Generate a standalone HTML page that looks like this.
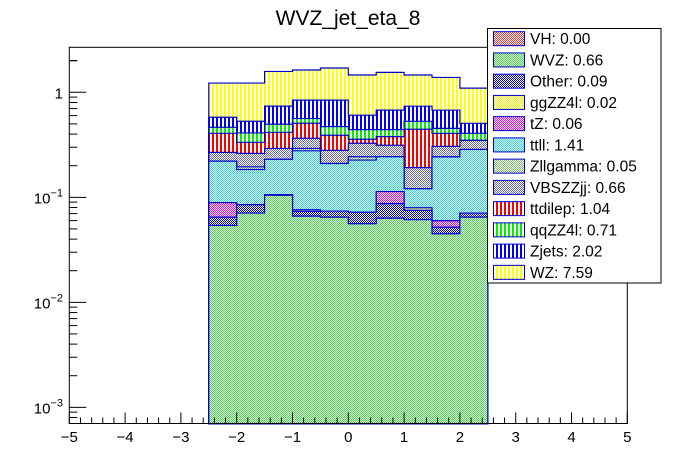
<!DOCTYPE html>
<html><head><meta charset="utf-8"><style>
body{margin:0;background:#fff;}
svg{display:block;font-family:"Liberation Sans",sans-serif;}
</style></head><body>
<svg id="chart" width="696" height="472" viewBox="0 0 696 472" xmlns="http://www.w3.org/2000/svg">
<defs>
<pattern id="chk-wvz" width="2" height="2" patternUnits="userSpaceOnUse"><rect width="2" height="2" fill="#fff"/><rect width="1" height="1" fill="#33dd33"/><rect x="1" y="1" width="1" height="1" fill="#33dd33"/></pattern>
<pattern id="chk-other" width="2" height="2" patternUnits="userSpaceOnUse"><rect width="2" height="2" fill="#fff"/><rect width="1" height="1" fill="#0000dd"/><rect x="1" y="1" width="1" height="1" fill="#0000dd"/></pattern>
<pattern id="chk-tz" width="2" height="2" patternUnits="userSpaceOnUse"><rect width="2" height="2" fill="#fff"/><rect width="1" height="1" fill="#ee00ee"/><rect x="1" y="1" width="1" height="1" fill="#ee00ee"/></pattern>
<pattern id="chk-gg" width="2" height="2" patternUnits="userSpaceOnUse"><rect width="2" height="2" fill="#fff"/><rect width="1" height="1" fill="#eeee00"/><rect x="1" y="1" width="1" height="1" fill="#eeee00"/></pattern>
<pattern id="chk-ttll" width="2" height="2" patternUnits="userSpaceOnUse"><rect width="2" height="2" fill="#fff"/><rect width="1" height="1" fill="#22dddd"/><rect x="1" y="1" width="1" height="1" fill="#22dddd"/></pattern>
<pattern id="chk-zll" width="2" height="2" patternUnits="userSpaceOnUse"><rect width="2" height="2" fill="#fff"/><rect width="1" height="1" fill="#77bb66"/><rect x="1" y="1" width="1" height="1" fill="#77bb66"/></pattern>
<pattern id="chk-vbs" width="2" height="2" patternUnits="userSpaceOnUse"><rect width="2" height="2" fill="#fff"/><rect width="1" height="1" fill="#6666aa"/><rect x="1" y="1" width="1" height="1" fill="#6666aa"/></pattern>
<pattern id="vl-ttd" width="4" height="4" patternUnits="userSpaceOnUse"><rect width="4" height="4" fill="#fff"/><rect width="2" height="4" fill="#ff0000"/></pattern>
<pattern id="vl-qq" width="4" height="4" patternUnits="userSpaceOnUse"><rect width="4" height="4" fill="#fff"/><rect width="2" height="4" fill="#00ee00"/></pattern>
<pattern id="vl-zj" width="4" height="4" patternUnits="userSpaceOnUse"><rect width="4" height="4" fill="#fff"/><rect width="2" height="4" fill="#0000ff"/></pattern>
<pattern id="vl-wz" width="4" height="4" patternUnits="userSpaceOnUse"><rect width="4" height="4" fill="#fff"/><rect width="2" height="4" fill="#ffff00"/></pattern>
<pattern id="chk-vh" width="2" height="2" patternUnits="userSpaceOnUse"><rect width="2" height="2" fill="#fff"/><rect width="1" height="1" fill="#ee3333"/><rect x="1" y="1" width="1" height="1" fill="#ee3333"/></pattern>
</defs>
<text x="348" y="25" font-size="21" text-anchor="middle">WVZ_jet_eta_8</text>
<g id="bars"></g>
<g id="axes"></g>
<g id="legend"></g>
</svg>
<script>
// Bin edges start at -2.5, width 0.5
const binLow = [-2.5,-2,-1.5,-1,-0.5,0,0.5,1,1.5,2];
const binWidth = 0.5;
// Stack order bottom -> top
const seriesNames = ["WVZ","Other","tZ","ggZZ4l","ttll","Zllgamma","VBSZZjj","ttdilep","qqZZ4l","Zjets","WZ"];
const vWVZ   = [0.054,0.0708,0.1045,0.0662,0.0648,0.056,0.0634,0.0612,0.045,0.0648];
const vOther = [0.0108,0.0143,0.0015,0.0073,0.0092,0.0163,0.0237,0.0139,0.007,0.006];
const vTZ    = [0.0242,0,0,0,0,0,0.0263,0,0.0078,0];
const vGG    = [0,0,0,0.0027,0,0,0,0.0045,0,0];
const vTTLL  = [0.132,0.099,0.124,0.201,0.136,0.154,0.130,0.041,0.183,0.215];
const vZLL   = [0,0.011,0,0.015,0,0.017,0,0,0,0];
const vVBS   = [0.047,0.067,0.062,0.073,0.070,0.084,0.070,0.071,0.063,0.063];
const vTTD   = [0.139,0.072,0.124,0.142,0.110,0.030,0.065,0.253,0.101,0];
const vQQ    = [0.057,0.076,0.080,0.055,0.081,0.084,0.063,0.085,0.047,0.058];
const vZJ    = [0.115,0.120,0.242,0.280,0.371,0.164,0.235,0.208,0.222,0.100];
const vWZ    = [0.646,0.695,0.843,0.789,0.862,0.856,0.871,0.723,0.710,0.590];
const xTicks = [-5,-4,-3,-2,-1,0,1,2,3,4,5];
const yDecades = [0,-1,-2,-3];
const legendLabels = ["VH: 0.00","WVZ: 0.66","Other: 0.09","ggZZ4l: 0.02","tZ: 0.06","ttll: 1.41","Zllgamma: 0.05","VBSZZjj: 0.66","ttdilep: 1.04","qqZZ4l: 0.71","Zjets: 2.02","WZ: 7.59"];

const NS="http://www.w3.org/2000/svg";
const X0=69.3,X1=627.3,Y0=423.5,Y1=47.3;
const logMin=-3.154, logMax=0.4286;
function xs(v){return X0+(v+5)/10*(X1-X0);}
function ys(v){const l=Math.log10(Math.max(v,1e-6));const c=Math.max(logMin,Math.min(logMax,l));return Y0-(c-logMin)/(logMax-logMin)*(Y0-Y1);}
function mk(t,parent){const e=document.createElementNS(NS,t);parent.appendChild(e);return e;}

const series=[vWVZ,vOther,vTZ,vGG,vTTLL,vZLL,vVBS,vTTD,vQQ,vZJ,vWZ];
const fills=["chk-wvz","chk-other","chk-tz","chk-gg","chk-ttll","chk-zll","chk-vbs","vl-ttd","vl-qq","vl-zj","vl-wz"];
const gb=document.getElementById('bars');
const cum=binLow.map(()=>0);
const tops=[];
series.forEach((s,k)=>{
  const t=s.map((v,i)=>cum[i]+v);
  tops.push(t);
  t.forEach((v,i)=>cum[i]=v);
});
// draw top-down so each layer is filled from frame bottom
for(let k=series.length-1;k>=0;k--){
  const g=mk('g',gb);
  
  
  let d='M'+xs(binLow[0])+','+Y0;
  tops[k].forEach((v,i)=>{d+=' L'+xs(binLow[i])+','+ys(v)+' L'+xs(binLow[i]+binWidth)+','+ys(v);});
  d+=' L'+xs(binLow[binLow.length-1]+binWidth)+','+Y0+' Z';
  const p=mk('path',g);
  p.setAttribute('d',d);
  p.setAttribute('fill','url(#'+fills[k]+')');
  p.setAttribute('stroke','#0000cc');
  p.setAttribute('stroke-width','1.2');
  
  
}
// axes
const ga=document.getElementById('axes');
const fr=mk('rect',ga);
fr.setAttribute('x',X0);fr.setAttribute('y',Y1);fr.setAttribute('width',X1-X0);fr.setAttribute('height',Y0-Y1);
fr.setAttribute('fill','none');fr.setAttribute('stroke','#000');fr.setAttribute('stroke-width','1');


for(let v=-5;v<=5.001;v+=0.2){
  const major=Math.abs(v-Math.round(v))<1e-6;
  const l=mk('line',ga);
  l.setAttribute('x1',xs(v));l.setAttribute('x2',xs(v));l.setAttribute('y1',Y0);l.setAttribute('y2',Y0-(major?11:6));
  l.setAttribute('stroke','#000');
  
  
}
xTicks.forEach(v=>{
  const t=mk('text',ga);
  t.setAttribute('x',xs(v));t.setAttribute('y',442);t.setAttribute('font-size','15');t.setAttribute('text-anchor','middle');
  t.textContent=(v<0?'\u2212':'')+Math.abs(v);
  
  
});
for(let dcd=-4;dcd<=0;dcd++){
  for(let m=1;m<=9;m++){
    const v=m*Math.pow(10,dcd);const lv=Math.log10(v);
    if(lv<logMin||lv>logMax)continue;
    const l=mk('line',ga);
    l.setAttribute('x1',X0);l.setAttribute('x2',X0+(m==1?17:8));l.setAttribute('y1',ys(v));l.setAttribute('y2',ys(v));
    l.setAttribute('stroke','#000');
    
    
  }
}
{const l=mk('line',ga);l.setAttribute('x1',X0);l.setAttribute('x2',X0+8);l.setAttribute('y1',ys(2));l.setAttribute('y2',ys(2));l.setAttribute('stroke','#000');

}
yDecades.forEach(dv=>{
  const t=mk('text',ga);
  t.setAttribute('x',dv==0?63:58);t.setAttribute('y',ys(Math.pow(10,dv))+6);t.setAttribute('font-size','15');t.setAttribute('text-anchor','end');
  
  
  if(dv==0){t.textContent='1';}
  else{t.textContent='10';const s=mk('tspan',t);s.setAttribute('dy','-7');s.setAttribute('font-size','11');s.textContent='\u2212'+Math.abs(dv);
  t.setAttribute('x',63);}
});
// legend
const gl=document.getElementById('legend');


const lb=mk('rect',gl);
lb.setAttribute('x',487.5);lb.setAttribute('y',28.5);lb.setAttribute('width',173.5);lb.setAttribute('height',254.5);
lb.setAttribute('fill','#fff');lb.setAttribute('stroke','#000');


const legFills=["chk-vh","chk-wvz","chk-other","chk-gg","chk-tz","chk-ttll","chk-zll","chk-vbs","vl-ttd","vl-qq","vl-zj","vl-wz"];
legendLabels.forEach((lab,i)=>{
  const cy=38.7+i*21.24;
  const g=mk('g',gl);
  
  
  const r=mk('rect',g);
  r.setAttribute('x',493.5);r.setAttribute('y',cy-7);r.setAttribute('width',31);r.setAttribute('height',14);
  r.setAttribute('fill','url(#'+legFills[i]+')');r.setAttribute('stroke','#0000cc');
  const t=mk('text',g);
  t.setAttribute('x',530);t.setAttribute('y',cy+5.5);t.setAttribute('font-size','15.5');
  t.textContent=lab;
});
</script>
</body></html>
